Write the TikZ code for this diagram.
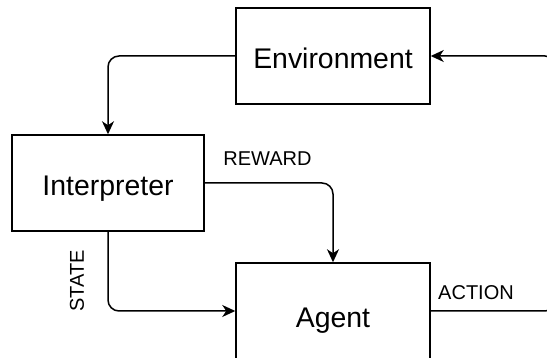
\documentclass[tikz,border=0pt]{standalone}
\usepackage{fontspec}
\setmainfont{Liberation Sans}
\usetikzlibrary{arrows.meta}
\begin{document}
\begin{tikzpicture}[x=1pt,y=-1pt,
  box/.style={draw, line width=1.5pt, minimum width=194pt, minimum height=96pt, inner sep=0pt,
    text height=26pt, text depth=0pt, font=\fontsize{28.4}{34}\selectfont},
  lbl/.style={font=\fontsize{20}{24}\selectfont, inner sep=0pt},
  conn/.style={line width=1.5pt, rounded corners=11pt, -{Stealth[length=13pt,width=12pt,inset=4pt]}}]
\clip (0,0) rectangle (547,358);
\node[box] (env) at (333,56) {Environment};
\node[box, minimum width=192pt] (int) at (108,183) {Interpreter};
\node[box, minimum height=104pt] (agent) at (333,315) {Agent};
\coordinate (rt) at (556,56);
\draw[conn] (env.west) -| (int.north);
\draw[conn] (int.east) -| (agent.north);
\draw[conn] (int.south) |- ([yshift=4pt]agent.west);
\draw[conn] ([yshift=4pt]agent.east) -| (rt) -- (env.east);
\node[lbl] (reward) at (267.5,159) {REWARD};
\node[lbl, rotate=90] (state) at (77,281) {STATE};
\node[lbl] (action) at (476,293) {ACTION};
\end{tikzpicture}
\end{document}
